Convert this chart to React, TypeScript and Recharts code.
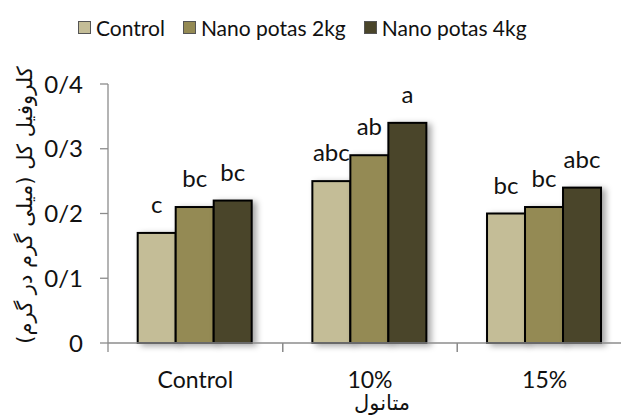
import {
  BarChart,
  Bar,
  XAxis,
  YAxis,
  LabelList,
} from 'recharts'

const categories = ['Control', '10%', '15%']
const seriesNames = ['Control', 'Nano potas 2kg', 'Nano potas 4kg']
const controlValues = [0.17, 0.25, 0.2]
const nano2Values = [0.21, 0.29, 0.21]
const nano4Values = [0.22, 0.34, 0.24]
const controlLetters = ['c', 'abc', 'bc']
const nano2Letters = ['bc', 'ab', 'bc']
const nano4Letters = ['bc', 'a', 'abc']
const yTicks = [0, 0.1, 0.2, 0.3, 0.4]
const yTickLabels = ['0', '0/1', '0/2', '0/3', '0/4']
const yTitle = 'کلروفیل کل (میلی گرم در گرم)'
const xTitle = 'متانول'

const colors = ['#C4BD97', '#948A54', '#4A452A']
const FONT = 'Lato, "Open Sans", sans-serif'
const AXIS_GRAY = '#8c8c8c'

const data = categories.map((name, i) => ({
  name,
  control: controlValues[i],
  nano2: nano2Values[i],
  nano4: nano4Values[i],
  l0: controlLetters[i],
  l1: nano2Letters[i],
  l2: nano4Letters[i],
}))

// bar with a soft shadow like the Excel original
function ShadowBar(props: any) {
  const { x, y, width, height, fill } = props
  if (height == null || height <= 0) return null
  return (
    <rect
      x={x}
      y={y}
      width={width}
      height={height}
      fill={fill}
      stroke="#000"
      strokeWidth={2}
      style={{ filter: 'drop-shadow(4px 2px 3px rgba(0,0,0,0.35))' }}
    />
  )
}

function LetterLabel(props: any) {
  const { x, y, width, value } = props
  return (
    <text
      x={x + width / 2}
      y={y - 20}
      textAnchor="middle"
      fontFamily={FONT}
      fontSize={24}
      fill="#111"
    >
      {value}
    </text>
  )
}

// tick marks sit on category boundaries, not centres
function CategoryTick(props: any) {
  const { x, y, payload } = props
  const off = payload.offset || 0
  return (
    <g>
      <line x1={x - off} y1={y - 8} x2={x - off} y2={y + 1} stroke={AXIS_GRAY} strokeWidth={1.3} />
      <line x1={x + off} y1={y - 8} x2={x + off} y2={y + 1} stroke={AXIS_GRAY} strokeWidth={1.3} />
      <text x={x} y={y + 37} textAnchor="middle" fontFamily={FONT} fontSize={23} fill="#111">
        {payload.value}
      </text>
    </g>
  )
}

function Legend() {
  return (
    <div
      style={{
        position: 'absolute',
        top: 15,
        left: 78,
        display: 'flex',
        alignItems: 'center',
        fontFamily: FONT,
        fontSize: 21,
        color: '#111',
        whiteSpace: 'nowrap',
      }}
    >
      {seriesNames.map((n, i) => (
        <div key={n} style={{ display: 'flex', alignItems: 'center', marginRight: 18 }}>
          <span
            style={{
              display: 'inline-block',
              width: 11,
              height: 11,
              background: colors[i],
              border: '1px solid #555',
              marginRight: 5,
            }}
          />
          <span>{n}</span>
        </div>
      ))}
    </div>
  )
}

export default function App() {
  return (
    <div
      style={{
        position: 'absolute',
        left: 0,
        top: 0,
        width: 621,
        height: 419,
        overflow: 'hidden',
        background: '#fff',
      }}
    >
      <Legend />
      <BarChart
        width={640}
        height={419}
        data={data}
        margin={{ top: 84, right: 8, bottom: 0, left: 0 }}
        barCategoryGap="17%"
        barGap={0}
      >
        <XAxis
          dataKey="name"
          height={76}
          axisLine={{ stroke: AXIS_GRAY, strokeWidth: 1.3 }}
          tickLine={false}
          tick={<CategoryTick />}
          interval={0}
          label={{
            content: () => (
              <text
                x={382}
                y={410}
                textAnchor="middle"
                fontFamily='"DejaVu Sans", sans-serif'
                fontSize={21}
                fill="#111"
              >
                {xTitle}
              </text>
            ),
          }}
        />
        <YAxis
          width={108}
          domain={[0, 0.4]}
          ticks={yTicks}
          interval={0}
          tickFormatter={(_v: number, i: number) => yTickLabels[i]}
          axisLine={{ stroke: AXIS_GRAY, strokeWidth: 1.3 }}
          tickLine={{ stroke: AXIS_GRAY, strokeWidth: 1.3 }}
          tickSize={8}
          tickMargin={17}
          tick={{ fontFamily: FONT, fontSize: 24, fill: '#111' }}
          label={{
            content: () => (
              <text
                x={0}
                y={0}
                transform="translate(32,205) rotate(-90)"
                textAnchor="middle"
                fontFamily='"DejaVu Sans", sans-serif'
                fontSize={21}
                fill="#111"
              >
                {yTitle}
              </text>
            ),
          }}
        />
        <Bar dataKey="control" fill={colors[0]} shape={<ShadowBar />} isAnimationActive={false}>
          <LabelList dataKey="l0" content={<LetterLabel />} />
        </Bar>
        <Bar dataKey="nano2" fill={colors[1]} shape={<ShadowBar />} isAnimationActive={false}>
          <LabelList dataKey="l1" content={<LetterLabel />} />
        </Bar>
        <Bar dataKey="nano4" fill={colors[2]} shape={<ShadowBar />} isAnimationActive={false}>
          <LabelList dataKey="l2" content={<LetterLabel />} />
        </Bar>
      </BarChart>
    </div>
  )
}
